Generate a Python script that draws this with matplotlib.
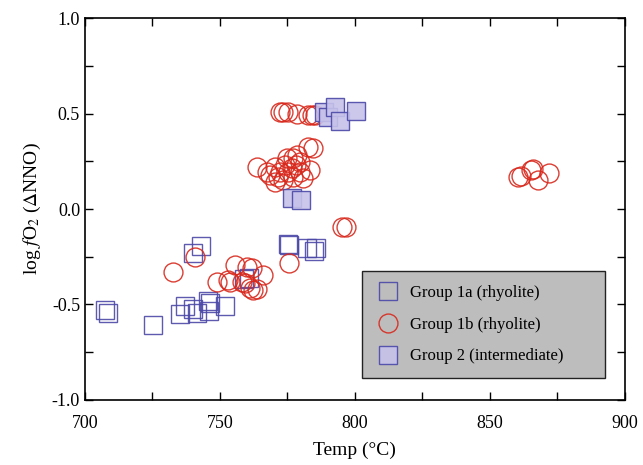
import matplotlib
matplotlib.use("Agg")
import matplotlib.pyplot as plt
from matplotlib.ticker import MultipleLocator, FormatStrFormatter

plt.rcParams['font.family'] = ['Liberation Serif', 'DejaVu Serif']
plt.rcParams['mathtext.fontset'] = 'stix'
plt.rcParams['axes.unicode_minus'] = False

# Group 1a (rhyolite) - open squares
g1a_temp = [707.4, 708.5, 725.2, 735.2, 737.0, 740.0, 741.5, 745.6, 746.3, 745.9,
            751.9, 740.0, 743.0, 758.8, 760.7, 775.1, 775.7, 782.2, 785.6, 784.8]
g1a_fo2 = [-0.53, -0.545, -0.607, -0.548, -0.508, -0.524, -0.545, -0.48, -0.491, -0.532,
           -0.506, -0.23, -0.194, -0.365, -0.361, -0.183, -0.187, -0.204, -0.203, -0.22]

# Group 1b (rhyolite) - open circles
g1b_temp = [772.2, 773.2, 775.2, 778.4, 782.6, 784.1, 785.2,
            763.7, 767.3, 770.4, 771.6, 774.7, 777.0, 778.4, 776.6, 779.6, 780.7,
            783.3, 784.4, 782.6, 773.3, 770.4, 777.0, 768.5, 774.1, 779.6, 772.2,
            775.2, 778.1,
            860.5, 861.5, 865.2, 865.9, 867.8, 871.9,
            795.1, 796.7, 775.6, 732.7, 740.7,
            748.8, 753.1, 755.6, 759.9, 761.7, 766.0, 758.0, 759.3, 761.1, 762.2,
            763.6, 753.7]
g1b_fo2 = [0.509, 0.509, 0.509, 0.50, 0.49, 0.49, 0.49,
           0.22, 0.195, 0.221, 0.169, 0.265, 0.265, 0.283, 0.215, 0.195, 0.162,
           0.204, 0.318, 0.326, 0.152, 0.143, 0.169, 0.178, 0.23, 0.246, 0.194,
           0.194, 0.23,
           0.166, 0.173, 0.204, 0.209, 0.152, 0.188,
           -0.093, -0.093, -0.283, -0.328, -0.253,
           -0.381, -0.372, -0.293, -0.302, -0.31, -0.346, -0.381, -0.389, -0.415, -0.424,
           -0.42, -0.381]

# Group 2 (intermediate) - filled squares
g2_temp = [788.6, 790.0, 792.6, 794.4, 800.4, 776.7, 779.9]
g2_fo2 = [0.506, 0.48, 0.536, 0.462, 0.513, 0.058, 0.047]

xticks = [700, 750, 800, 850, 900]
yticks = [-1.0, -0.5, 0.0, 0.5, 1.0]

blue = '#4b48a8'
red = '#d8281c'
fill2 = '#c6c2ea'

fig = plt.figure(figsize=(6.43, 4.65), dpi=100)
ax = fig.add_axes([0.132, 0.140, 0.840, 0.821])

ms = 12.8
mew = 1.0
ax.plot(g1a_temp, g1a_fo2, linestyle='none', marker='s', markersize=ms,
        markerfacecolor='none', markeredgecolor=blue, markeredgewidth=mew,
        label='Group 1a (rhyolite)', alpha=0.9)
ax.plot(g1b_temp, g1b_fo2, linestyle='none', marker='o', markersize=ms + 0.8,
        markerfacecolor='none', markeredgecolor=red, markeredgewidth=mew,
        label='Group 1b (rhyolite)', alpha=0.9)
ax.plot(g2_temp, g2_fo2, linestyle='none', marker='s', markersize=ms,
        markerfacecolor=fill2, markeredgecolor=blue, markeredgewidth=mew,
        label='Group 2 (intermediate)', alpha=0.9)

ax.set_xlim(700, 900)
ax.set_ylim(-1.0, 1.0)
ax.set_xticks(xticks)
ax.set_yticks(yticks)
ax.xaxis.set_minor_locator(MultipleLocator(25))
ax.yaxis.set_minor_locator(MultipleLocator(0.25))
ax.yaxis.set_major_formatter(FormatStrFormatter('%.1f'))
ax.tick_params(which='both', direction='in', top=True, right=True,
               length=6, width=1.0, labelsize=13)
ax.tick_params(axis='x', pad=11)
for s in ax.spines.values():
    s.set_linewidth(1.2)

ax.set_xlabel('Temp (°C)', fontsize=14, labelpad=7)
ax.set_ylabel(r'log $f$O$_2$ ($\Delta$NNO)', fontsize=14, labelpad=6)

leg = ax.legend(loc='lower left', bbox_to_anchor=(0.513, 0.058, 0.45, 0.277),
                mode='expand', fontsize=12, frameon=True, fancybox=False,
                labelspacing=0.95, handletextpad=0.6, borderpad=0.8,
                handlelength=1.5, borderaxespad=0)
frame = leg.get_frame()
frame.set_facecolor('#bdbdbd')
frame.set_edgecolor('#222222')
frame.set_linewidth(1.0)
frame.set_alpha(1.0)

fig.savefig('out.png', dpi=100)
